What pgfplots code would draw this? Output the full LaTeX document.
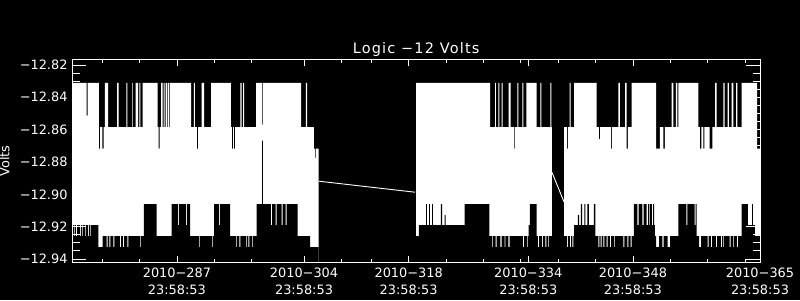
\documentclass[border=0pt]{standalone}
\usepackage{pgfplots}
\pgfplotsset{compat=1.18}
\usepackage{pgfplotstable}
\usepackage{fontspec}
\setmainfont{DejaVu Sans}
\newfontfamily\titlefont[LetterSpace=8]{DejaVu Sans}
\pagecolor{black}

% segment A (day 273 - 306): upper envelope (first/last rows close the area at the bottom)
\pgfplotstableread[row sep=\\]{
x y\\
273.00 -12.9600\\
273.00 -12.8311\\ 274.90 -12.8514\\ 275.06 -12.8311\\ 276.57 -12.8718\\ 276.71 -12.8584\\
277.01 -12.8718\\ 277.20 -12.8584\\ 277.37 -12.8311\\ 277.78 -12.8584\\ 278.98 -12.8311\\
279.21 -12.8584\\ 280.22 -12.8311\\ 280.36 -12.8584\\ 280.99 -12.8311\\ 281.08 -12.8584\\
281.48 -12.8311\\ 281.79 -12.8584\\ 281.96 -12.8311\\ 282.10 -12.8584\\ 282.42 -12.8311\\
284.42 -12.8584\\ 284.56 -12.8718\\ 284.69 -12.8584\\ 284.87 -12.8311\\ 285.09 -12.8584\\
285.23 -12.8311\\ 285.36 -12.8584\\ 285.49 -12.8311\\ 285.67 -12.8584\\ 285.80 -12.8311\\
285.94 -12.8584\\ 286.07 -12.8311\\ 288.88 -12.8584\\ 289.28 -12.8311\\ 289.41 -12.8584\\
289.68 -12.8718\\ 289.82 -12.8584\\ 290.31 -12.8311\\ 290.62 -12.8584\\ 291.56 -12.8311\\
294.23 -12.8584\\ 294.36 -12.8718\\ 294.50 -12.8584\\ 294.63 -12.8718\\ 294.77 -12.8584\\
295.48 -12.8311\\ 295.66 -12.8584\\ 295.84 -12.8311\\ 295.97 -12.8584\\ 297.58 -12.8311\\
298.38 -12.8569\\ 298.51 -12.8311\\ 303.60 -12.8584\\ 304.26 -12.8311\\ 304.40 -12.8584\\
305.33 -12.8718\\ 305.47 -12.8775\\ 305.60 -12.8718\\ 305.96 -12.8718\\
305.96 -12.9600\\
}\AUp
% segment A: lower envelope
\pgfplotstableread[row sep=\\]{
x y\\
273.00 -12.9600\\
273.00 -12.9190\\ 273.23 -12.9258\\ 273.36 -12.9190\\ 273.49 -12.9258\\ 273.63 -12.9190\\
274.03 -12.9258\\ 274.16 -12.9190\\ 274.30 -12.9258\\ 274.43 -12.9190\\ 274.70 -12.9258\\
274.83 -12.9190\\ 275.10 -12.9258\\ 275.23 -12.9190\\ 275.37 -12.9258\\ 275.50 -12.9190\\
276.48 -12.9326\\ 277.07 -12.9258\\ 277.60 -12.9326\\ 277.74 -12.9258\\ 277.95 -12.9326\\
278.08 -12.9258\\ 278.49 -12.9326\\ 278.62 -12.9258\\ 279.38 -12.9326\\ 279.52 -12.9258\\
279.78 -12.9326\\ 279.92 -12.9258\\ 280.36 -12.9326\\ 280.49 -12.9258\\ 282.06 -12.9326\\
282.19 -12.9258\\ 282.59 -12.9060\\ 284.29 -12.9258\\ 286.30 -12.9060\\ 287.14 -12.9190\\
287.27 -12.9060\\ 288.21 -12.9190\\ 288.34 -12.9060\\ 288.75 -12.9258\\ 289.95 -12.9326\\
290.08 -12.9258\\ 291.69 -12.9326\\ 291.82 -12.9258\\ 291.96 -12.9060\\ 292.63 -12.9190\\
292.76 -12.9060\\ 294.10 -12.9258\\ 294.90 -12.9326\\ 295.03 -12.9258\\ 295.34 -12.9326\\
295.48 -12.9258\\ 296.24 -12.9326\\ 296.37 -12.9258\\ 296.55 -12.9326\\ 296.68 -12.9258\\
297.04 -12.9326\\ 297.17 -12.9258\\ 297.67 -12.9060\\ 298.38 -12.8668\\ 298.51 -12.9060\\
299.58 -12.9190\\ 299.72 -12.9060\\ 300.21 -12.9190\\ 300.34 -12.9060\\ 301.01 -12.9190\\
301.15 -12.9060\\ 301.55 -12.9190\\ 301.68 -12.9060\\ 303.15 -12.9258\\ 304.80 -12.9326\\
305.96 -12.9326\\
305.96 -12.9600\\
}\ALo
% segment B (day 319 - 337.2)
\pgfplotstableread[row sep=\\]{
x y\\
318.98 -12.9600\\
318.98 -12.8311\\ 328.88 -12.8584\\ 329.55 -12.8311\\ 329.68 -12.8584\\ 329.99 -12.8311\\
330.12 -12.8584\\ 330.44 -12.8311\\ 330.58 -12.8584\\ 331.38 -12.8311\\ 331.65 -12.8584\\
332.09 -12.8718\\ 332.22 -12.8584\\ 332.53 -12.8311\\ 332.67 -12.8584\\ 333.20 -12.8311\\
333.33 -12.8584\\ 333.76 -12.8311\\ 335.13 -12.8584\\ 335.61 -12.8311\\ 335.74 -12.8584\\
336.95 -12.8311\\ 337.08 -12.8584\\ 337.17 -12.8584\\
337.17 -12.9600\\
}\BUp
\pgfplotstableread[row sep=\\]{
x y\\
318.98 -12.9600\\
318.98 -12.9258\\ 319.38 -12.9190\\ 320.32 -12.9060\\ 320.45 -12.9190\\ 320.72 -12.9060\\
320.85 -12.9190\\ 321.12 -12.9060\\ 321.25 -12.9190\\ 322.32 -12.9060\\ 322.46 -12.9190\\
322.82 -12.9128\\ 322.95 -12.9190\\ 325.50 -12.9060\\ 328.79 -12.9258\\ 329.15 -12.9326\\
329.28 -12.9258\\ 329.62 -12.9326\\ 329.75 -12.9258\\ 330.28 -12.9326\\ 330.42 -12.9258\\
330.82 -12.9326\\ 330.95 -12.9258\\ 331.35 -12.9326\\ 331.49 -12.9258\\ 333.29 -12.9326\\
333.43 -12.9258\\ 333.83 -12.9326\\ 333.96 -12.9258\\ 334.06 -12.9190\\ 334.23 -12.9060\\
335.13 -12.9258\\ 335.30 -12.9326\\ 335.44 -12.9258\\ 335.84 -12.9326\\ 335.97 -12.9258\\
336.28 -12.9326\\ 336.41 -12.9258\\ 336.64 -12.9326\\ 336.77 -12.9258\\ 337.17 -12.9258\\
337.17 -12.9600\\
}\BLo
% segment C (day 338.8 - 365)
\pgfplotstableread[row sep=\\]{
x y\\
338.78 -12.9600\\
338.78 -12.8584\\ 339.18 -12.8718\\ 339.32 -12.8584\\ 339.54 -12.8311\\ 339.68 -12.8584\\
340.12 -12.8311\\ 343.15 -12.8584\\ 343.46 -12.8658\\ 343.60 -12.8584\\ 345.07 -12.8718\\
345.20 -12.8584\\ 346.04 -12.8311\\ 346.27 -12.8584\\ 346.94 -12.8311\\ 347.17 -12.8718\\
347.34 -12.8584\\ 347.84 -12.8311\\ 351.09 -12.8718\\ 351.62 -12.8584\\ 352.06 -12.8718\\
352.29 -12.8584\\ 353.19 -12.8311\\ 353.40 -12.8584\\ 353.76 -12.8311\\ 353.94 -12.8584\\
354.07 -12.8311\\ 356.75 -12.8584\\ 356.97 -12.8718\\ 357.15 -12.8584\\ 357.41 -12.8718\\
357.55 -12.8584\\ 358.27 -12.8718\\ 358.62 -12.8584\\ 358.98 -12.8311\\ 359.21 -12.8584\\
360.09 -12.8311\\ 360.28 -12.8584\\ 360.68 -12.8311\\ 360.85 -12.8584\\ 361.21 -12.8311\\
361.43 -12.8584\\ 361.79 -12.8311\\ 361.96 -12.8584\\ 362.55 -12.8311\\ 364.60 -12.8718\\
365.00 -12.8718\\
365.00 -12.9600\\
}\CUp
\pgfplotstableread[row sep=\\]{
x y\\
338.78 -12.9600\\
338.78 -12.9258\\ 339.18 -12.9326\\ 339.32 -12.9258\\ 339.58 -12.9326\\ 339.72 -12.9258\\
339.89 -12.9326\\ 340.02 -12.9258\\ 340.12 -12.9190\\ 340.65 -12.9128\\ 340.79 -12.9190\\
341.05 -12.9060\\ 341.19 -12.9190\\ 341.50 -12.9060\\ 341.63 -12.9190\\ 341.90 -12.9060\\
342.12 -12.9190\\ 342.79 -12.9060\\ 342.97 -12.9258\\ 343.37 -12.9326\\ 343.50 -12.9258\\
343.69 -12.9326\\ 343.82 -12.9258\\ 344.04 -12.9326\\ 344.17 -12.9258\\ 344.49 -12.9326\\
344.63 -12.9258\\ 344.93 -12.9326\\ 345.07 -12.9258\\ 345.47 -12.9326\\ 345.60 -12.9258\\
346.71 -12.9326\\ 346.85 -12.9258\\ 347.25 -12.9326\\ 347.38 -12.9258\\ 347.70 -12.9326\\
347.84 -12.9258\\ 348.14 -12.9060\\ 348.61 -12.9190\\ 348.75 -12.9060\\ 349.28 -12.9190\\
349.42 -12.9060\\ 349.84 -12.9190\\ 350.02 -12.9060\\ 350.15 -12.9190\\ 350.28 -12.9060\\
350.55 -12.9190\\ 350.69 -12.9060\\ 350.82 -12.9190\\ 350.95 -12.9258\\ 351.09 -12.9326\\
351.49 -12.9258\\ 351.93 -12.9326\\ 352.12 -12.9258\\ 352.65 -12.9326\\ 352.96 -12.9258\\
354.07 -12.9060\\ 355.14 -12.9190\\ 355.27 -12.9060\\ 356.26 -12.9190\\ 356.40 -12.9060\\
356.53 -12.9258\\ 356.84 -12.9326\\ 357.11 -12.9258\\ 358.00 -12.9326\\ 358.14 -12.9258\\
358.44 -12.9326\\ 358.58 -12.9258\\ 359.11 -12.9326\\ 359.25 -12.9258\\ 359.78 -12.9326\\
359.92 -12.9258\\ 360.05 -12.9326\\ 360.18 -12.9258\\ 360.95 -12.9326\\ 361.08 -12.9258\\
361.39 -12.9326\\ 361.52 -12.9258\\ 361.92 -12.9326\\ 362.06 -12.9258\\ 362.55 -12.9060\\
363.39 -12.9190\\ 363.93 -12.9060\\ 364.06 -12.9190\\ 364.33 -12.9258\\ 365.00 -12.9258\\
365.00 -12.9600\\
}\CLo

\begin{document}
\begin{tikzpicture}
\path[use as bounding box] (0,0) rectangle (800pt,300pt);
\begin{axis}[
  at={(72.3pt,37.3pt)}, anchor=south west,
  width=687.7pt, height=203.4pt, scale only axis,
  xmin=273, xmax=365, ymin=-12.9423, ymax=-12.8165,
  axis on top,
  axis line style={white, line width=0.8pt},
  every tick/.style={white, line width=0.8pt},
  tick align=inside,
  every major x tick/.append style={/pgfplots/major tick length=6.7pt},
  every minor x tick/.append style={/pgfplots/minor tick length=3.3pt},
  every major y tick/.append style={/pgfplots/major tick length=14pt},
  every minor y tick/.append style={/pgfplots/minor tick length=7.5pt},
  xtick={287,304,318,334,348,365},
  xticklabels={{2010−287\\23:58:53},{2010−304\\23:58:53},{2010−318\\23:58:53},{2010−334\\23:58:53},{2010−348\\23:58:53},{2010−365\\23:58:53}},
  minor xtick={277,282,292,297,309,313,323,328,333,338,343,353,358,363},
  ytick={-12.94,-12.92,-12.90,-12.88,-12.86,-12.84,-12.82},
  yticklabels={−12.94,−12.92,−12.90,−12.88,−12.86,−12.84,−12.82},
  minor y tick num=3,
  xticklabel style={white, font=\fontsize{12.9}{17}\selectfont, align=center, inner sep=0pt, yshift=-4.8pt},
  yticklabel style={white, font=\fontsize{12.9}{15}\selectfont, inner sep=0pt, xshift=-4.6pt},
  title={Logic −12 Volts},
  title style={white, font=\titlefont\fontsize{14.5}{17}\selectfont, at={(axis description cs:0.5,1)}, anchor=base, yshift=0pt},
  ylabel={Volts},
  ylabel style={white, font=\fontsize{12.9}{15}\selectfont, at={(axis description cs:-0.0985,0.5)}, anchor=center, inner sep=0pt},
]
\addplot[const plot, fill=white, draw=none] table {\AUp};
\addplot[const plot, fill=black, draw=none] table {\ALo};
\addplot[const plot, fill=white, draw=none] table {\BUp};
\addplot[const plot, fill=black, draw=none] table {\BLo};
\addplot[const plot, fill=white, draw=none] table {\CUp};
\addplot[const plot, fill=black, draw=none] table {\CLo};
\addplot[white, line width=0.9pt] coordinates {(306.00,-12.8919) (318.85,-12.8987)};
\addplot[white, line width=0.9pt] coordinates {(337.17,-12.8864) (338.78,-12.9047)};
\end{axis}
\end{tikzpicture}
\end{document}
